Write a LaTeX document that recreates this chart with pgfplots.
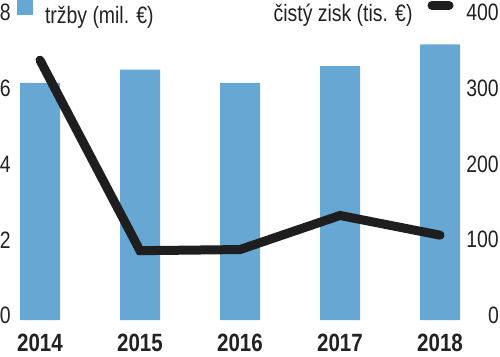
\documentclass[border=0pt]{standalone}
\usepackage{pgfplots}
\pgfplotsset{compat=1.18}
\usepackage{fontspec}
\setmainfont{Liberation Sans}[FakeStretch=0.82]
\definecolor{barblue}{HTML}{67A7D3}
\definecolor{txt}{HTML}{222222}
\definecolor{linec}{HTML}{1E1E1E}
\begin{document}
\begin{tikzpicture}[x=1pt,y=1pt]
\useasboundingbox (0,0) rectangle (500,356);
\begin{axis}[
  at={(13pt,36pt)}, anchor=south west,
  scale only axis, width=447pt, height=303pt,
  xmin=-0.27, xmax=4.2, ymin=0, ymax=8,
  axis line style={draw=none}, tick style={draw=none}, major tick length=0pt,
  xtick={0,1,2,3,4}, xticklabels={2014,2015,2016,2017,2018},
  ytick={0,2,4,6,8},
  xticklabel style={font=\fontsize{25}{25}\selectfont\bfseries, text=txt, inner sep=0pt, yshift=-14pt},
  yticklabel style={font=\fontsize{23.7}{23.7}\selectfont, text=txt, inner sep=0pt, xshift=-2pt, yshift=4.5pt},
  /pgf/number format/assume math mode=true,
  clip=false,
  legend style={draw=none, fill=none, inner sep=0pt, outer sep=0pt,
    at={(axis description cs:0.009,1.0165)}, anchor=west,
    font=\fontsize{23.7}{23.7}\selectfont, column sep=12pt,
    nodes={inner sep=0pt, text=txt}},
]
\addplot[ybar, bar width=40pt, bar shift=0pt, fill=barblue, draw=none,
  legend image code/.code={\fill[barblue] (0pt,0.5pt) rectangle (16pt,16.5pt);}]
  coordinates {(0,6.26) (1,6.61) (2,6.26) (3,6.70) (4,7.28)};
\addlegendentry{tržby (mil. €)}
\end{axis}
\begin{axis}[
  at={(13pt,36pt)}, anchor=south west,
  scale only axis, width=447pt, height=303pt,
  xmin=-0.27, xmax=4.2, ymin=0, ymax=400,
  axis line style={draw=none}, tick style={draw=none}, major tick length=0pt,
  xtick=\empty,
  ytick={0,100,200,300,400},
  yticklabel pos=right,
  yticklabel style={font=\fontsize{23.7}{23.7}\selectfont, text=txt, anchor=east, inner sep=0pt, xshift=39pt, yshift=4.5pt},
  /pgf/number format/assume math mode=true,
  clip=false,
  legend plot pos=right,
  legend style={draw=none, fill=none, inner sep=0pt, outer sep=0pt,
    at={(axis description cs:0.9855,1.0165)}, anchor=east,
    font=\fontsize{23.7}{23.7}\selectfont, column sep=15pt,
    nodes={inner sep=0pt, text=txt}},
]
\addplot[linec, line width=9pt, line cap=round, line join=miter,
  legend image code/.code={\draw[linec, line width=9pt, line cap=round] (0pt,8.5pt) -- (17pt,8.5pt);}]
  coordinates {(0,343) (1,91.5) (2,93) (3,138) (4,112)};
\addlegendentry{čistý zisk (tis. €)}
\end{axis}
\end{tikzpicture}
\end{document}
